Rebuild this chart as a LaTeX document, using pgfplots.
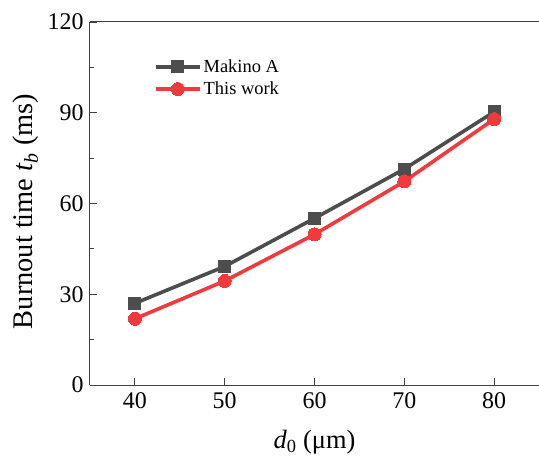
\documentclass[border=0pt]{standalone}
\usepackage{fontspec}
\setmainfont{Liberation Serif}
\usepackage{pgfplots}
\pgfplotsset{compat=1.18}
\definecolor{dgrey}{RGB}{77,77,77}
\definecolor{myred}{RGB}{242,58,60}
\begin{document}
\begin{tikzpicture}
\begin{axis}[
  name=ax,
  scale only axis,
  width=449bp, height=363bp,
  xmin=35, xmax=85, ymin=0, ymax=120,
  xtick={40,50,60,70,80},
  ytick={0,30,60,90,120},
  minor ytick={15,45,75,105},
  axis x line*=box, axis y line*=left,
  tick align=inside,
  major tick length=7bp, minor tick length=4bp,
  tick style={line width=0.8bp, black!75},
  axis line style={line width=1bp, black!75},
  xtick pos=bottom, ytick pos=left,
  /pgf/number format/assume math mode=true,
  tick label style={font=\fontsize{24}{28}\selectfont},
  xticklabel style={yshift=-4bp},
  yticklabel style={xshift=-3bp},
  xlabel={\textit{d}\textsubscript{0} (μm)},
  ylabel={Burnout time \textit{t\textsubscript{b}} (ms)},
  xlabel style={font=\fontsize{26.5}{30}\selectfont, yshift=-15bp},
  ylabel style={font=\fontsize{28.5}{32}\selectfont, yshift=2bp, xshift=-8bp},
  legend style={draw=none, fill=none, at={(rel axis cs:0.14,0.905)}, anchor=north west,
    font=\fontsize{18.5}{22}\selectfont, row sep=4bp, inner sep=1bp},
  legend cell align=left,
  legend image code/.code={\draw[mark repeat=2,mark phase=2] plot coordinates {(0bp,0bp)(22bp,0bp)(44bp,0bp)};},
]
\addplot[color=dgrey, line width=3.6bp, mark=square*, mark size=6bp, mark options={solid, fill=dgrey, draw=dgrey, line width=0pt}]
  coordinates {(40,27.0) (50,39.2) (60,55.1) (70,71.4) (80,90.3)};
\addlegendentry{Makino A}
\addplot[color=myred, line width=3.6bp, mark=*, mark size=6.5bp, mark options={solid, fill=myred, draw=myred, line width=0pt}]
  coordinates {(40,21.9) (50,34.4) (60,49.8) (70,67.3) (80,87.9)};
\addlegendentry{This work}
\end{axis}
\pgfresetboundingbox
\path ([xshift=-90bp,yshift=-77bp]ax.south west) rectangle ([yshift=22bp]ax.north east);
\end{tikzpicture}
\end{document}
